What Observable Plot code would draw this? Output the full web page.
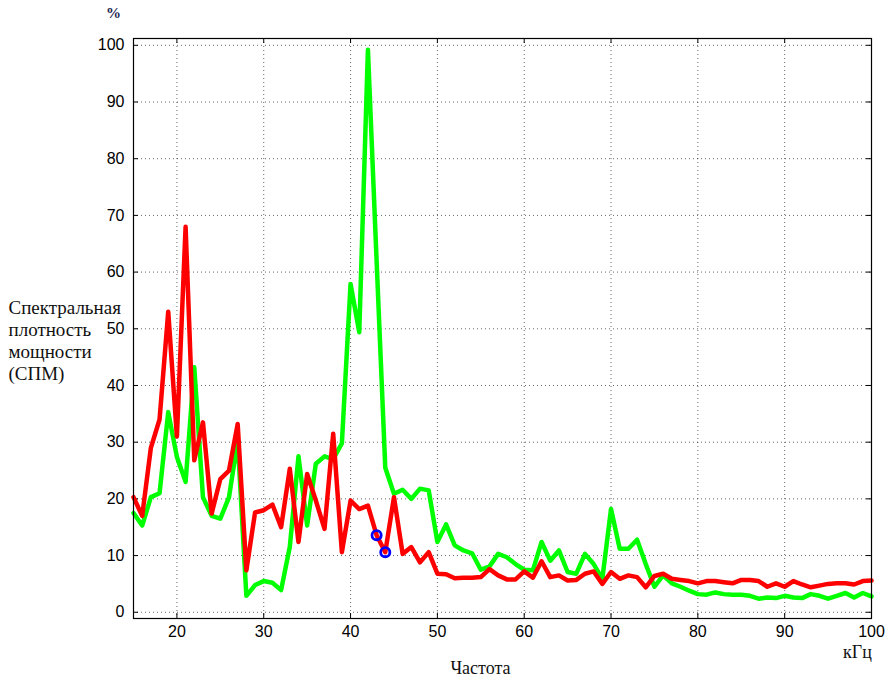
<!DOCTYPE html>
<html>
<head>
<meta charset="utf-8">
<script src="https://cdn.jsdelivr.net/npm/d3@7"></script>
<script src="https://cdn.jsdelivr.net/npm/@observablehq/plot@0.6"></script>
<style>
  html, body { margin: 0; padding: 0; background: #fff; }
</style>
</head>
<body>
<div id="chart"></div>
<script>
const freq = [15,16,17,18,19,20,21,22,23,24,25,26,27,28,29,30,31,32,33,34,35,36,37,38,39,40,41,42,43,44,45,46,47,48,49,50,51,52,53,54,55,56,57,58,59,60,61,62,63,64,65,66,67,68,69,70,71,72,73,74,75,76,77,78,79,80,81,82,83,84,85,86,87,88,89,90,91,92,93,94,95,96,97,98,99,100];

const redSeries = [20.3,17,29,34,53,31,68,26.8,33.5,17.4,23.5,25,33.2,7.4,17.6,18,19,15,25.3,12.4,24.4,19.7,14.7,31.5,10.6,19.7,18.2,18.8,13.6,10.6,20.3,10.3,11.5,8.8,10.6,6.8,6.7,6.0,6.1,6.1,6.2,7.6,6.5,5.8,5.8,7.2,6.1,9,6.2,6.5,5.6,5.7,6.8,7.2,5,7.1,5.9,6.5,6.2,4.4,6.4,6.8,5.9,5.7,5.5,5.1,5.5,5.5,5.3,5.1,5.7,5.7,5.5,4.5,5.1,4.5,5.5,4.9,4.4,4.7,5.0,5.1,5.1,4.9,5.5,5.6];

const greenSeries = [17.5,15.3,20.3,21,35.3,27.4,23,43.2,20.3,17,16.5,20.3,30.3,2.9,4.8,5.5,5.2,3.9,11.5,27.5,15.3,26.2,27.5,27,29.8,57.9,49.4,99.2,62,25.5,20.9,21.6,20,21.8,21.5,12.4,15.5,11.8,10.9,10.4,7.5,8.1,10.3,9.7,8.5,7.5,7.4,12.4,9.1,10.9,7.1,6.8,10.3,8.5,5.9,18.2,11.2,11.2,12.8,8.5,4.5,6.5,5.1,4.5,3.8,3.2,3.1,3.5,3.2,3.1,3.1,2.9,2.4,2.6,2.5,2.9,2.6,2.5,3.2,2.9,2.4,2.9,3.4,2.6,3.4,2.8];

const markerFreq = [43, 44];

const xTicks = [20,30,40,50,60,70,80,90,100];
const yTicks = [0,10,20,30,40,50,60,70,80,90,100];
const xGrid = [20,30,40,50,60,70,80,90];

const yLabel = "Спектральная\nплотность\nмощности\n(СПМ)";
const xLabel = "Частота";
const xUnit = "кГц";
const yUnit = "%";

const redData = freq.map((f, i) => ({f, v: redSeries[i]}));
const greenData = freq.map((f, i) => ({f, v: greenSeries[i]}));
const markerData = markerFreq.map(f => ({f, v: redSeries[freq.indexOf(f)]}));

const W = 885, H = 677;
const mL = 133, mR = 14, mT = 38, mB = 59;
const plotW = W - mL - mR, plotH = H - mT - mB;
const tickLen = 5;
const serif = "'Liberation Serif', 'Times New Roman', serif";

const chart = Plot.plot({
  width: W,
  height: H,
  marginLeft: mL,
  marginRight: mR,
  marginTop: mT,
  marginBottom: mB,
  style: {fontFamily: "'Liberation Sans', Arial, sans-serif", fontSize: "16px", background: "#fff", color: "#000"},
  x: {domain: [15, 100]},
  y: {domain: [-1.1, 101.2]},
  marks: [
    Plot.ruleX(xGrid, {x: d => d, stroke: "#000", strokeOpacity: 0.6, strokeDasharray: "1,3", strokeWidth: 1}),
    Plot.ruleY(yTicks, {y: d => d, stroke: "#000", strokeOpacity: 0.6, strokeDasharray: "1,3", strokeWidth: 1}),
    Plot.ruleX(xTicks, {x: d => d, insetTop: plotH - tickLen, stroke: "#000"}),
    Plot.ruleX(xTicks, {x: d => d, insetBottom: plotH - tickLen, stroke: "#000"}),
    Plot.ruleY(yTicks, {y: d => d, insetRight: plotW - tickLen, stroke: "#000"}),
    Plot.ruleY(yTicks, {y: d => d, insetLeft: plotW - tickLen, stroke: "#000"}),
    Plot.axisX(xTicks, {tickSize: 0, tickPadding: 7, label: null, fontSize: 16}),
    Plot.axisY(yTicks, {tickSize: 0, tickPadding: 9, label: null, fontSize: 16}),
    Plot.line(greenData, {x: "f", y: "v", stroke: "#00ff00", strokeWidth: 4.5, strokeLinejoin: "round"}),
    Plot.line(redData, {x: "f", y: "v", stroke: "#ff0000", strokeWidth: 4.5, strokeLinejoin: "round"}),
    Plot.dot(markerData, {x: "f", y: "v", r: 4.6, stroke: "#0000ff", strokeWidth: 2.8, fill: "none"}),
    Plot.frame({stroke: "#000", strokeWidth: 1.2}),
    Plot.text([yLabel], {frameAnchor: "top-left", dx: -125, dy: 260, text: d => d, textAnchor: "start", lineAnchor: "top", lineHeight: 1.15, fontSize: 19, fontFamily: serif, fill: "#111"}),
    Plot.text([xLabel], {frameAnchor: "bottom-left", dx: 347, dy: 50, text: d => d, textAnchor: "middle", lineAnchor: "middle", fontSize: 18, fontFamily: serif, fill: "#111"}),
    Plot.text([xUnit], {frameAnchor: "bottom-right", dx: -14, dy: 34, text: d => d, textAnchor: "middle", lineAnchor: "middle", fontSize: 18, fontFamily: serif, fill: "#111"}),
    Plot.text([yUnit], {frameAnchor: "top-left", dx: -20, dy: -25, text: d => d, textAnchor: "middle", lineAnchor: "middle", fontSize: 15, fontWeight: "bold", fontFamily: serif, fill: "#1a2550"})
  ]
});

document.getElementById("chart").appendChild(chart);
</script>
</body>
</html>
